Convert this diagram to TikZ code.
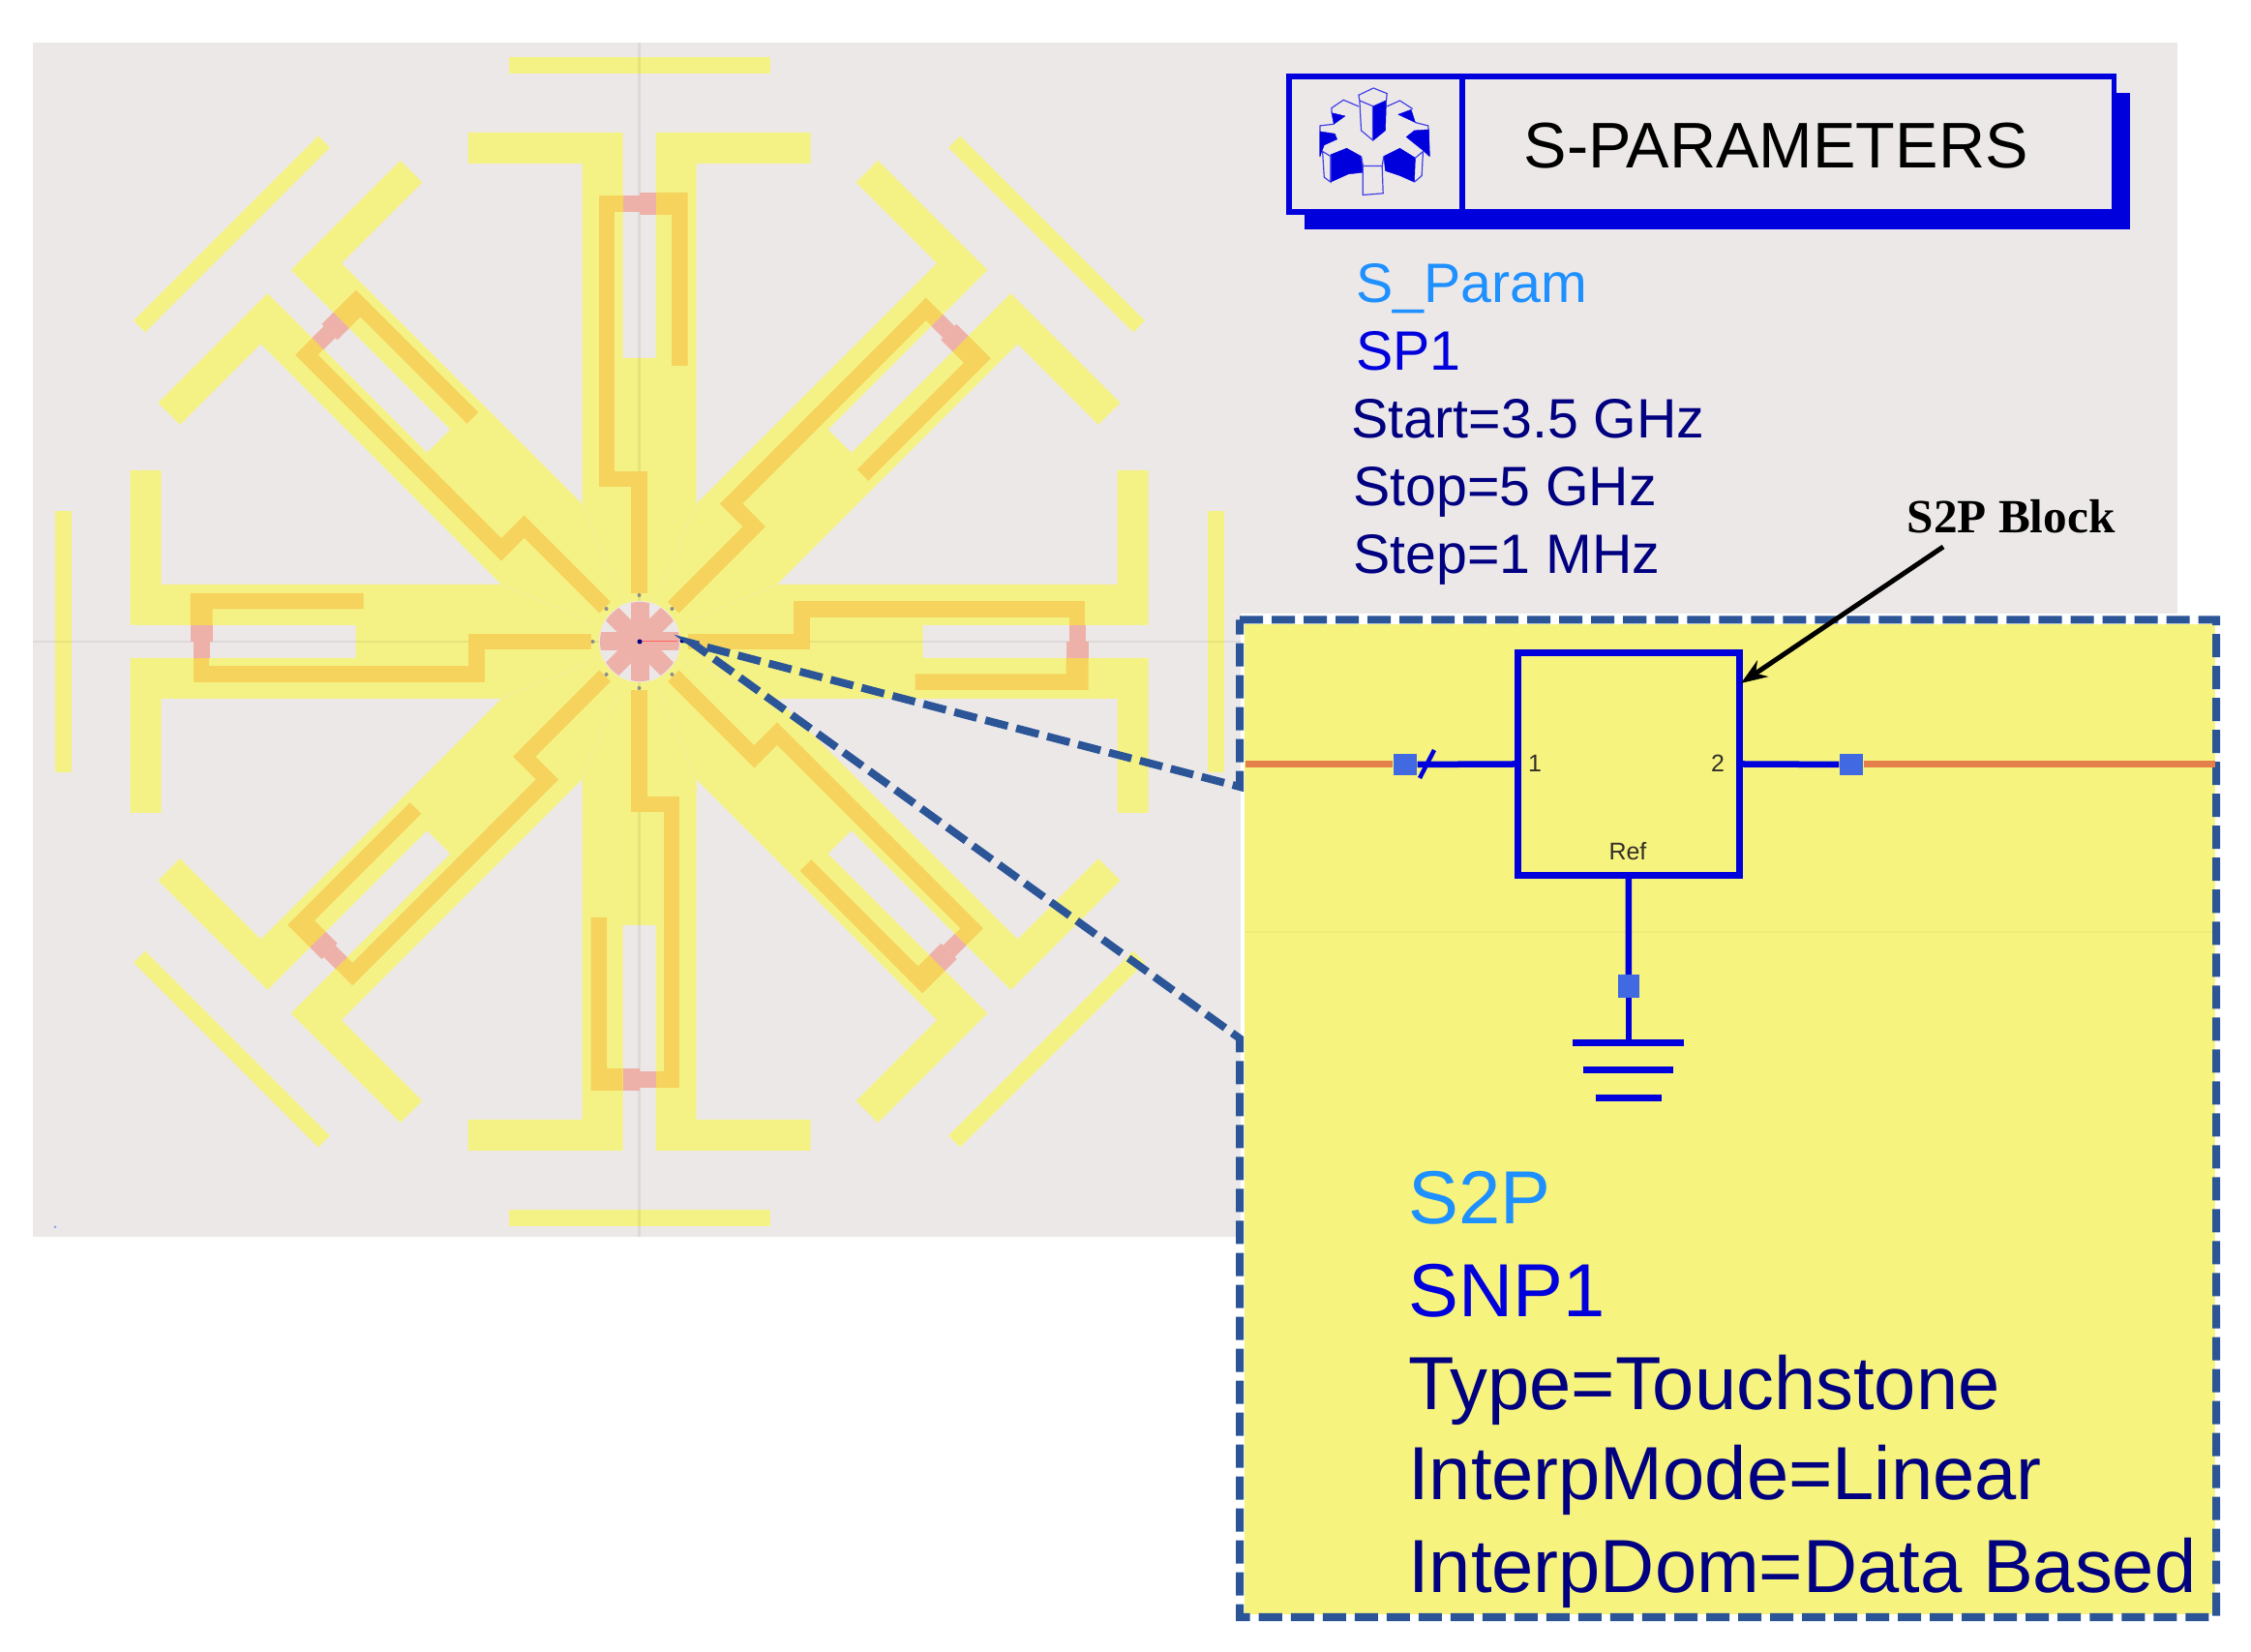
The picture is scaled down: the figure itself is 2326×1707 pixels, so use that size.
\documentclass[tikz,border=0pt]{standalone}
\usepackage{fontspec}
\setmainfont{Liberation Sans}
\newfontfamily\timesfont{Liberation Serif}
\usetikzlibrary{arrows.meta}
\definecolor{bgray}{HTML}{ECE8E8}
\definecolor{patchy}{HTML}{F5F285}
\definecolor{stripo}{HTML}{F5D35D}
\definecolor{padpink}{HTML}{EEB1A9}
\definecolor{calloutb}{HTML}{2B5597}
\definecolor{wireb}{HTML}{0000DD}
\definecolor{portb}{HTML}{4169E1}
\definecolor{navyt}{HTML}{000080}
\definecolor{skyt}{HTML}{1E90FF}
\definecolor{lineo}{HTML}{E6804A}
\tikzset{
  strip/.style={draw=stripo,line width=.165cm,miter limit=10},
  wire/.style={draw=wireb,line width=.065cm},
  port/.style={fill=portb,inner sep=0,minimum width=.24cm,minimum height=.225cm},
  callout/.style={draw=calloutb,line width=.08cm,dash pattern=on .24cm off .09cm},
  lbl/.style={anchor=base west,inner sep=0},
  biglbl/.style={lbl,font=\fontsize{16.3}{18}\selectfont},
  hugelbl/.style={lbl,font=\fontsize{22.1}{24}\selectfont},
  pinlbl/.style={inner sep=0,text=black!85!olive,font=\fontsize{7.1}{8}\selectfont},
  gearfill/.style={fill=wireb,draw=wireb,line width=.004cm},
  gearline/.style={draw=wireb!75,line width=.012cm},
}
\begin{document}
\begin{tikzpicture}[x=.01cm,y=-.01cm]
    \useasboundingbox (0,0) rectangle (2326,1707);
    \fill[white] (0,0) rectangle (2326,1707);
    \fill[bgray] (34,44) rectangle (2250,1278);
    % antenna patch
    \foreach \ang in {0,45,...,315} {
        \begin{scope}[shift={(660.5,663)},rotate=\ang]
            \fill[patchy] (0,0) -- (-59,-143) -- (-59,-494) -- (-177,-494) -- (-177,-526) -- (-17,-526)
                -- (-17,-293) -- (17,-293) -- (17,-526) -- (177,-526) -- (177,-494) -- (59,-494) -- (59,-143) -- cycle;
            \fill[patchy] (-135,-604) rectangle (135,-587);
        \end{scope}
    }
    \draw[black,opacity=.06,line width=.025cm] (660.5,44) -- (660.5,1278);
    \draw[black,opacity=.06,line width=.025cm] (34,663) -- (1282,663);
    \foreach \ang in {0,45,...,315} {
        \begin{scope}[shift={(660.5,663)},rotate=\ang]
            \draw[strip] (0,-50) -- (0,-168) -- (-33.5,-168) -- (-33.5,-452.5) -- (-17,-452.5);
            \fill[stripo] (17,-464) -- (50,-464) -- (50,-285) -- (33.5,-285) -- (33.5,-441) -- (17,-441) -- cycle;
            \fill[padpink] (-17,-461) rectangle (0,-444);
            \fill[padpink] (0,-464) rectangle (17,-441);
            \fill[black!45] (0,-48) circle (2);
        \end{scope}
    }
    % centre pad
    \fill[bgray] (661,663) circle (42);
    \begin{scope}
        \clip (661,663) circle (41);
        \foreach \ang in {0,45,90,135} {
            \fill[padpink,shift={(661,663)},rotate=\ang] (-9.5,-41) rectangle (9.5,41);
        }
    \end{scope}
    \draw[red!50!pink,line width=.01cm] (662,663) -- (700,663);
    \fill[navyt] (661,663) circle (2.5);
    \fill[navyt] (705,662) circle (2.5);
    \fill[portb!60] (57,1268) circle (1.5);
    % inset
    \fill[white] (1282,634) rectangle (2296,1680);
    \fill[patchy!95!yellow] (1286,645) rectangle (2289,1668);
    \draw[black,opacity=.03,line width=.02cm] (1287,963) -- (2289,963);
    \coordinate (cnw) at (1281,640.5);
    \coordinate (cne) at (2290,640.5);
    \coordinate (cse) at (2290,1671);
    \coordinate (csw) at (1281,1671);
    \coordinate (clo) at (1281,1073);
    \coordinate (ctip) at (716,665);
    \coordinate (chi) at (1281,813);
    \draw[callout] (cnw) -- (cne) -- (cse) -- (csw) -- (clo) -- (ctip) -- (chi) -- cycle;
    % s-parameters title box
    \fill[wireb] (1348,96) -- (2201,96) -- (2201,237) -- (1348,237) -- cycle;
    \node[draw=wireb,fill=bgray,line width=.055cm,inner sep=0,minimum width=8.52cm,minimum height=1.4cm] (titlebox) at (1758,149) {};
    \draw[wireb,line width=.06cm] (1510.5,79) -- (1510.5,219);
    \node[lbl,text=black,font=\fontsize{18.95}{21}\selectfont] (titlelbl) at (1574,173.5) {S-PARAMETERS};
    \begin{scope}[shift={(1340,80)},x=.00333cm,y=-.00333cm]
        \draw[gearline] (192,55) -- (238,33) -- (280,50) -- (278,72) -- (238,90) -- (195,72) -- cycle;
        \draw[gearline] (195,72) -- (200,165) -- (236,195) -- (236,90);
        \fill[gearfill] (238,90) -- (278,72) -- (275,165) -- (238,195) -- cycle;
        \draw[gearline] (192,90) -- (145,70) -- (108,95) -- (108,110);
        \draw[gearline] (280,90) -- (320,72) -- (360,98);
        \draw[gearline] (115,145) -- (72,150) -- (72,245);
        \draw[gearline] (368,140) -- (408,150) -- (412,245);
        \fill[gearfill] (108,110) -- (150,120) -- (115,145) -- cycle;
        \fill[gearfill] (72,168) -- (118,175) -- (125,192) -- (85,210) -- (72,245) -- cycle;
        \fill[gearfill] (315,115) -- (355,100) -- (368,140) -- cycle;
        \fill[gearfill] (340,185) -- (365,165) -- (410,162) -- (412,245) -- (390,225) -- cycle;
        \fill[gearfill] (105,240) -- (155,220) -- (200,245) -- (205,270) -- (205,295) -- (160,300) -- (105,325) -- cycle;
        \fill[gearfill] (270,245) -- (320,220) -- (368,250) -- (365,325) -- (320,305) -- (275,290) -- cycle;
        \draw[gearline] (205,275) -- (265,275) -- (268,360) -- (205,365) -- cycle;
        \draw[gearline] (205,275) -- (200,245);
        \draw[gearline] (265,275) -- (270,245);
        \draw[gearline] (80,230) -- (105,245) -- (105,325) -- (85,310) -- cycle;
        \draw[gearline] (368,250) -- (392,230) -- (388,305) -- (365,325);
    \end{scope}
    \node[biglbl,text=skyt] (paramlbl) at (1400.5,313) {S\_Param};
    \node[biglbl,text=wireb] (splbl) at (1400.5,383) {SP1};
    \node[biglbl,text=navyt] (startlbl) at (1396,453) {Start=3.5 GHz};
    \node[biglbl,text=navyt] (stoplbl) at (1397.5,523) {Stop=5 GHz};
    \node[biglbl,text=navyt] (steplbl) at (1397.5,593) {Step=1 MHz};
    \node[lbl,font=\timesfont\bfseries\fontsize{14}{16}\selectfont] (blocklbl) at (1970,551) {S2P Block};
    % s2p block
    \coordinate (linel) at (1287,790);
    \coordinate (liner) at (2289,790);
    \node[draw=wireb,line width=.07cm,inner sep=0,minimum width=2.285cm,minimum height=2.295cm] (snp) at (1682.8,789.5) {};
    \node[port] (portl) at (1452,790) {};
    \node[port] (portr) at (1913,790) {};
    \node[port,minimum width=.22cm,minimum height=.23cm] (portg) at (1683,1019) {};
    \coordinate (gnd) at (1683,1077);
    \draw[draw=lineo,line width=.07cm] (linel) -- (portl);
    \draw[draw=lineo,line width=.07cm] (portr) -- (liner);
    \draw[wire] (portl) -- (snp.west);
    \draw[wire] (snp.east) -- (portr);
    \draw[wire] (snp.south) -- (portg);
    \draw[wire] (portg) -- (gnd);
    \draw[wire,line width=.045cm] (1482,775) -- (1467,804);
    \draw[wireb,line width=.078cm] (1625,1077.5) -- (1740,1077.5);
    \draw[wireb,line width=.07cm] (1636,1105.5) -- (1728.5,1105.5);
    \draw[wireb,line width=.07cm] (1648.5,1134.5) -- (1717,1134.5);
    \node[pinlbl] (pinone) at (1586,789) {1};
    \node[pinlbl] (pintwo) at (1775,789) {2};
    \node[pinlbl] (pinref) at (1682,880) {Ref};
    \coordinate (arrstart) at (2008,565);
    \coordinate (arrtip) at (1799,706);
    \draw[-{Stealth[length=.27cm,width=.2cm]},black,line width=.05cm] (arrstart) -- (arrtip);
    \node[hugelbl,text=skyt] (stwolbl) at (1454.5,1265) {S2P};
    \node[hugelbl,text=wireb] (snplbl) at (1454.5,1361) {SNP1};
    \node[hugelbl,text=navyt] (typelbl) at (1454.5,1457) {Type=Touchstone};
    \node[hugelbl,text=navyt] (modelbl) at (1454.5,1550) {InterpMode=Linear};
    \node[hugelbl,text=navyt] (domlbl) at (1454.5,1646) {InterpDom=Data Based};
\end{tikzpicture}
\end{document}
